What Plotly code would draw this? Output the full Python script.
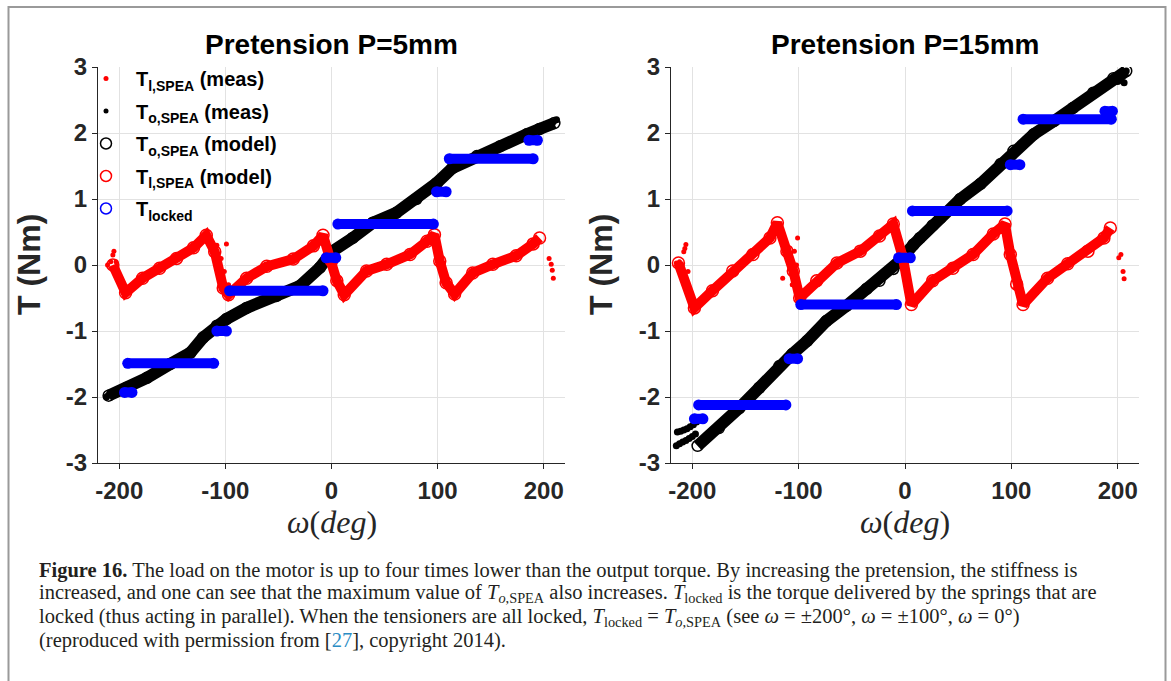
import plotly.graph_objects as go

# ---------------- data ----------------
x_tick_vals = [-200, -100, 0, 100, 200]
x_tick_text = ["-200", "-100", "0", "100", "200"]
y_tick_vals = [-3, -2, -1, 0, 1, 2, 3]
y_tick_text = ["-3", "-2", "-1", "0", "1", "2", "3"]

titles = ["Pretension P=5mm", "Pretension P=15mm"]

# --- P = 5 mm ---
p5_To_x = [-210, -193, -174, -152, -133, -121, -108, -99, -80, -52, -30, -11, 1, 20,
           39, 61, 80, 99, 114, 137, 159, 184, 196, 210]
p5_To_y = [-1.98, -1.86, -1.71, -1.50, -1.33, -1.10, -0.92, -0.82, -0.65, -0.47, -0.32,
           -0.04, 0.21, 0.41, 0.64, 0.79, 1.00, 1.24, 1.47, 1.65, 1.80, 1.98, 2.06, 2.15]
p5_Tl_x = [-206, -194, -178, -162, -146, -130, -118, -110, -102, -97, -80, -61, -36, -17,
           -8, 0, 5, 12, 33, 52, 74, 90, 97, 102, 108, 116, 133, 152, 174, 190, 196]
p5_Tl_y = [0.0, -0.42, -0.2, -0.05, 0.10, 0.26, 0.45, 0.2, -0.35, -0.45, -0.2, -0.02,
           0.09, 0.29, 0.45, 0.06, -0.24, -0.45, -0.09, 0.01, 0.16, 0.36, 0.46, 0.06,
           -0.27, -0.44, -0.12, 0.01, 0.14, 0.32, 0.41]
p5_Tl_meas_x = [-211, -208, -206, -205, -203, -108, -104, -101, -99, -97, -2, 2, 103, 106,
                205, 207, 208, 209]
p5_Tl_meas_y = [0.0, 0.05, 0.15, 0.21, 0.05, 0.3, 0.1, -0.1, 0.32, -0.3, 0.15, -0.1, 0.0,
                -0.15, 0.1, 0.01, -0.08, -0.2]
p5_To_meas_x = [-212, -210, 209, 212]
p5_To_meas_y = [-2.0, -1.97, 2.17, 2.2]
p5_lock_x0 = [-195, -192, -108, -96, -5, 6, 99, 111, 186]
p5_lock_x1 = [-188, -111, -99, -8, 4, 96, 108, 190, 194]
p5_lock_y = [-1.93, -1.49, -1.00, -0.39, 0.11, 0.62, 1.11, 1.61, 1.89]

# --- P = 15 mm ---
p15_To_x = [-195, -175, -156, -137, -118, -106, -92, -74, -55, -36, -24, -11, -5, 8, 14,
            26, 33, 52, 71, 90, 102, 121, 140, 158, 177, 196, 208]
p15_To_y = [-2.74, -2.47, -2.17, -1.86, -1.53, -1.35, -1.15, -0.85, -0.62, -0.36, -0.24,
            -0.06, 0.06, 0.31, 0.41, 0.6, 0.71, 1.0, 1.23, 1.53, 1.73, 1.98, 2.18, 2.38,
            2.61, 2.83, 2.94]
p15_Tl_x = [-213, -198, -181, -162, -143, -127, -120, -111, -105, -99, -83, -64, -42, -24,
            -11, -2, 6, 26, 45, 64, 83, 94, 99, 105, 111, 134, 153, 172, 187, 193]
p15_Tl_y = [0.03, -0.65, -0.39, -0.09, 0.16, 0.41, 0.64, 0.21, -0.09, -0.5, -0.24, 0.03,
            0.21, 0.44, 0.62, 0.11, -0.6, -0.24, -0.05, 0.16, 0.47, 0.62, 0.16, -0.29,
            -0.6, -0.2, 0.02, 0.21, 0.41, 0.56]
p15_Tl_meas_x = [-215, -212, -208, -207, -206, -204, -115, -106, -104, -102, -101, -98,
                 -4, 0, 3, 97, 101, 104, 201, 203, 205, 206]
p15_Tl_meas_y = [0.03, 0.05, 0.2, 0.25, 0.31, -0.1, -0.2, -0.3, 0.21, 0.0, 0.41, -0.45,
                 0.3, -0.2, -0.45, 0.35, 0.0, -0.35, 0.11, 0.16, -0.1, -0.21]
p15_To_meas_x = [-215, -212, -209, -206, -203, -200, -197, -214, -211, -208, -205, -202,
                 -199, -196, 200, 203, 206, 208]
p15_To_meas_y = [-2.74, -2.71, -2.68, -2.66, -2.63, -2.60, -2.56, -2.53, -2.52, -2.50,
                 -2.48, -2.45, -2.42, -2.38, 2.78, 2.80, 2.76, 2.94]
p15_lock_x0 = [-198, -194, -109, -98, -6, 7, 99, 111, 188]
p15_lock_x1 = [-190, -112, -101, -8, 5, 96, 108, 194, 195]
p15_lock_y = [-2.33, -2.12, -1.42, -0.60, 0.11, 0.82, 1.52, 2.21, 2.33]

legend_names = ["<b>T<sub>l,SPEA</sub> (meas)</b>", "<b>T<sub>o,SPEA</sub> (meas)</b>",
                "<b>T<sub>o,SPEA</sub> (model)</b>", "<b>T<sub>l,SPEA</sub> (model)</b>",
                "<b>T<sub>locked</sub></b>"]

# ---------------- figure ----------------
W, H = 1171, 681
RED, BLACK, BLUE = "#ff0000", "#000000", "#0000ff"
fig = go.Figure()

panels = [
    dict(xa="x", ya="y", To=(p5_To_x, p5_To_y), Tl=(p5_Tl_x, p5_Tl_y),
         Tlm=(p5_Tl_meas_x, p5_Tl_meas_y), Tom=(p5_To_meas_x, p5_To_meas_y),
         lock=(p5_lock_x0, p5_lock_x1, p5_lock_y)),
    dict(xa="x2", ya="y2", To=(p15_To_x, p15_To_y), Tl=(p15_Tl_x, p15_Tl_y),
         Tlm=(p15_Tl_meas_x, p15_Tl_meas_y), Tom=(p15_To_meas_x, p15_To_meas_y),
         lock=(p15_lock_x0, p15_lock_x1, p15_lock_y)),
]

for p in panels:
    xa, ya = p["xa"], p["ya"]
    # black band (model output torque)
    fig.add_trace(go.Scatter(x=p["To"][0], y=p["To"][1], xaxis=xa, yaxis=ya, mode="lines+markers",
                             line=dict(color=BLACK, width=12),
                             marker=dict(symbol="circle-open", size=11, color=BLACK, line=dict(width=1.5)),
                             showlegend=False, hoverinfo="skip"))
    fig.add_trace(go.Scatter(x=p["Tom"][0], y=p["Tom"][1], xaxis=xa, yaxis=ya, mode="markers",
                             marker=dict(symbol="circle", size=7, color=BLACK),
                             showlegend=False, hoverinfo="skip"))
    # red band (motor torque)
    fig.add_trace(go.Scatter(x=p["Tl"][0], y=p["Tl"][1], xaxis=xa, yaxis=ya, mode="lines+markers",
                             line=dict(color=RED, width=10),
                             marker=dict(symbol="circle-open", size=12, color=RED, line=dict(width=1.5)),
                             showlegend=False, hoverinfo="skip"))
    fig.add_trace(go.Scatter(x=p["Tlm"][0], y=p["Tlm"][1], xaxis=xa, yaxis=ya, mode="markers",
                             marker=dict(symbol="circle", size=5, color=RED),
                             showlegend=False, hoverinfo="skip"))
    # blue locked segments
    x0s, x1s, ys = p["lock"]
    lx, ly = [], []
    for a, b, v in zip(x0s, x1s, ys):
        lx += [a, b, None]
        ly += [v, v, None]
    fig.add_trace(go.Scatter(x=lx, y=ly, xaxis=xa, yaxis=ya, mode="lines+markers",
                             line=dict(color=BLUE, width=10),
                             marker=dict(symbol="circle", size=11, color=BLUE),
                             showlegend=False, hoverinfo="skip"))

# legend-only entries
leg_styles = [
    dict(symbol="circle", size=5, color=RED),
    dict(symbol="circle", size=5, color=BLACK),
    dict(symbol="circle-open", size=11, color=BLACK, line=dict(width=1.5)),
    dict(symbol="circle-open", size=11, color=RED, line=dict(width=1.5)),
    dict(symbol="circle-open", size=11, color=BLUE, line=dict(width=1.5)),
]
for i, (nm, st) in enumerate(zip(legend_names, leg_styles)):
    fig.add_trace(go.Scatter(x=[None], y=[None], mode="markers", marker=st, name="\u2002" + nm,
                             legendgroup=f"g{i}", showlegend=True, xaxis="x", yaxis="y"))

# ---------------- axes ----------------
def px_x(v):
    return v / W

def px_y(v):
    return 1 - v / H

tick_font = dict(family="Liberation Sans, Arial", size=24, color="#262626", weight="bold")
ax_common = dict(showline=True, linecolor="#262626", linewidth=1.2, ticks="outside", ticklen=5,
                 tickcolor="#262626", showgrid=True, gridcolor="#e2e2e2", gridwidth=1,
                 zeroline=False, tickfont=tick_font, mirror=False, fixedrange=True,
                 automargin=False)

ydom = [px_y(463), px_y(67)]
fig.update_layout(
    xaxis=dict(domain=[px_x(98), px_x(565)], range=[-220, 220], tickvals=x_tick_vals,
               ticktext=x_tick_text, anchor="y", ticklabelstandoff=1, **ax_common),
    yaxis=dict(domain=ydom, range=[-3, 3], tickvals=y_tick_vals, ticktext=y_tick_text,
               anchor="x", ticklabelstandoff=0, **ax_common),
    xaxis2=dict(domain=[px_x(671), px_x(1139)], range=[-220, 220], tickvals=x_tick_vals,
                ticktext=x_tick_text, anchor="y2", ticklabelstandoff=1, **ax_common),
    yaxis2=dict(domain=ydom, range=[-3, 3], tickvals=y_tick_vals, ticktext=y_tick_text,
                anchor="x2", ticklabelstandoff=0, **ax_common),
)

annotations = []
# titles
for cx, t in zip([331.5, 905], titles):
    annotations.append(dict(text=f"<b>{t}</b>", x=px_x(cx), y=px_y(45), xref="paper", yref="paper",
                            showarrow=False, xanchor="center", yanchor="middle",
                            font=dict(family="Liberation Sans, Arial", size=28, color="#000000")))
    annotations.append(dict(text="<i>ω</i>(<i>deg</i>)", x=px_x(cx), y=px_y(522), xref="paper",
                            yref="paper", showarrow=False, xanchor="center", yanchor="middle",
                            font=dict(family="Liberation Serif, serif", size=32, color="#262626")))
for cx in [29, 601]:
    annotations.append(dict(text="<b>T (Nm)</b>", x=px_x(cx), y=px_y(265), xref="paper", yref="paper",
                            showarrow=False, textangle=-90, xanchor="center", yanchor="middle",
                            font=dict(family="Liberation Sans, Arial", size=32, color="#262626")))

caption_lines = [
    "<b>Figure 16.</b> The load on the motor is up to four times lower than the output torque. "
    "By increasing the pretension, the stiffness is",
    "increased, and one can see that the maximum value of <i>T</i><sub><i>o</i>,SPEA</sub> also "
    "increases. <i>T</i><sub>locked</sub> is the torque delivered by the springs that are",
    "locked (thus acting in parallel). When the tensioners are all locked, "
    "<i>T</i><sub>locked</sub> = <i>T</i><sub><i>o</i>,SPEA</sub> (see <i>ω</i> = ±200°, "
    "<i>ω</i> = ±100°, <i>ω</i> = 0°)",
    "(reproduced with permission from [<span style='color:#2a8cc4'>27</span>], copyright 2014).",
]
caption_y = [570, 593.5, 617, 640.5]
for txt, yy in zip(caption_lines, caption_y):
    annotations.append(dict(text=txt, x=px_x(37), y=px_y(yy), xref="paper", yref="paper",
                            showarrow=False, xanchor="left", yanchor="middle",
                            font=dict(family="Liberation Serif, serif", size=20.5, color="#231f20")))

fig.update_layout(
    width=W, height=H, margin=dict(l=0, r=0, t=0, b=0, pad=0, autoexpand=False),
    paper_bgcolor="white", plot_bgcolor="white",
    annotations=annotations,
    showlegend=True,
    legend=dict(x=px_x(86), y=px_y(59), xanchor="left", yanchor="top", bgcolor="rgba(0,0,0,0)",
                font=dict(family="Liberation Sans, Arial", size=20, color="#000000"),
                tracegroupgap=3.5, itemwidth=30, traceorder="grouped"),
    shapes=[dict(type="rect", xref="paper", yref="paper", x0=px_x(8.5), x1=px_x(1165.5),
                 y0=-0.1, y1=px_y(7), line=dict(color="#9a9a9a", width=2), fillcolor="rgba(0,0,0,0)")],
)

fig.write_html("out.html", config={"displayModeBar": False},
               post_script="document.body.style.margin='0';document.body.style.overflow='hidden';")
